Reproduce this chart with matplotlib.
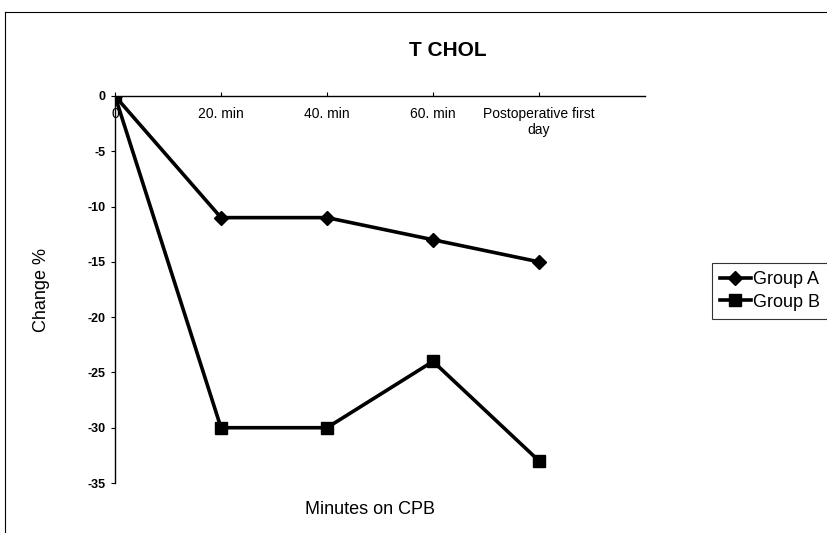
import matplotlib
matplotlib.use('Agg')
import matplotlib.pyplot as plt
from matplotlib.lines import Line2D

plt.rcParams['font.family'] = ['Liberation Sans', 'DejaVu Sans']

# data
categories = ['0', '20. min', '40. min', '60. min', 'Postoperative first\nday']
group_a = [0, -11, -11, -13, -15]
group_b = [0, -30, -30, -24, -33]
y_ticks = [0, -5, -10, -15, -20, -25, -30, -35]

fig = plt.figure(figsize=(8.28, 5.33), dpi=100)
ax = fig.add_axes([115/828, 1 - 483/533, (645 - 115)/828, (483 - 96)/533])

x = list(range(len(categories)))
ax.plot(x, group_a, color='black', lw=2.6, marker='D', ms=7, label='Group A')
ax.plot(x, group_b, color='black', lw=2.6, marker='s', ms=9, label='Group B')

ax.set_xlim(0, 5)
ax.set_ylim(-35, 0)
ax.set_yticks(y_ticks)
ax.set_yticklabels([str(v) for v in y_ticks], fontsize=9, fontweight='bold')
ax.set_xticks(x)
ax.set_xticklabels(categories, fontsize=7, fontweight='bold', va='top', linespacing=1.0)
for lbl in ax.get_xticklabels()[:1]:
    lbl.set_ha('right')

for s in ['top', 'right']:
    ax.spines[s].set_visible(False)
ax.spines['bottom'].set_position(('data', 0))
ax.spines['bottom'].set_linewidth(1.0)
ax.spines['left'].set_linewidth(1.0)
ax.tick_params(axis='x', direction='in', length=3, pad=8)
ax.tick_params(axis='y', direction='out', length=3, pad=4)
ax.patch.set_visible(False)

fig.text(448/828, 1 - 50/533, 'T CHOL', ha='center', va='center', fontsize=15, fontweight='bold')
fig.text(42/828, 1 - 290/533, 'Change %', ha='center', va='center', rotation=90, fontsize=13)
fig.text(370/828, 1 - 510/533, 'Minutes on CPB', ha='center', va='center', fontsize=13)

# outer frame (top and left edges visible)
fig.add_artist(Line2D([5/828, 1], [1 - 12/533, 1 - 12/533], transform=fig.transFigure, color='black', lw=0.8))
fig.add_artist(Line2D([5/828, 5/828], [0, 1 - 12/533], transform=fig.transFigure, color='black', lw=0.8))

leg = fig.legend(loc='upper left', bbox_to_anchor=(712/828, 1 - 263/533), fontsize=13,
                 frameon=True, fancybox=False, edgecolor='black', handlelength=1.7,
                 handletextpad=0.1, borderpad=0.45, labelspacing=0.3, borderaxespad=0)
leg.get_frame().set_linewidth(0.8)

fig.savefig('out.png', dpi=100, facecolor='white')
